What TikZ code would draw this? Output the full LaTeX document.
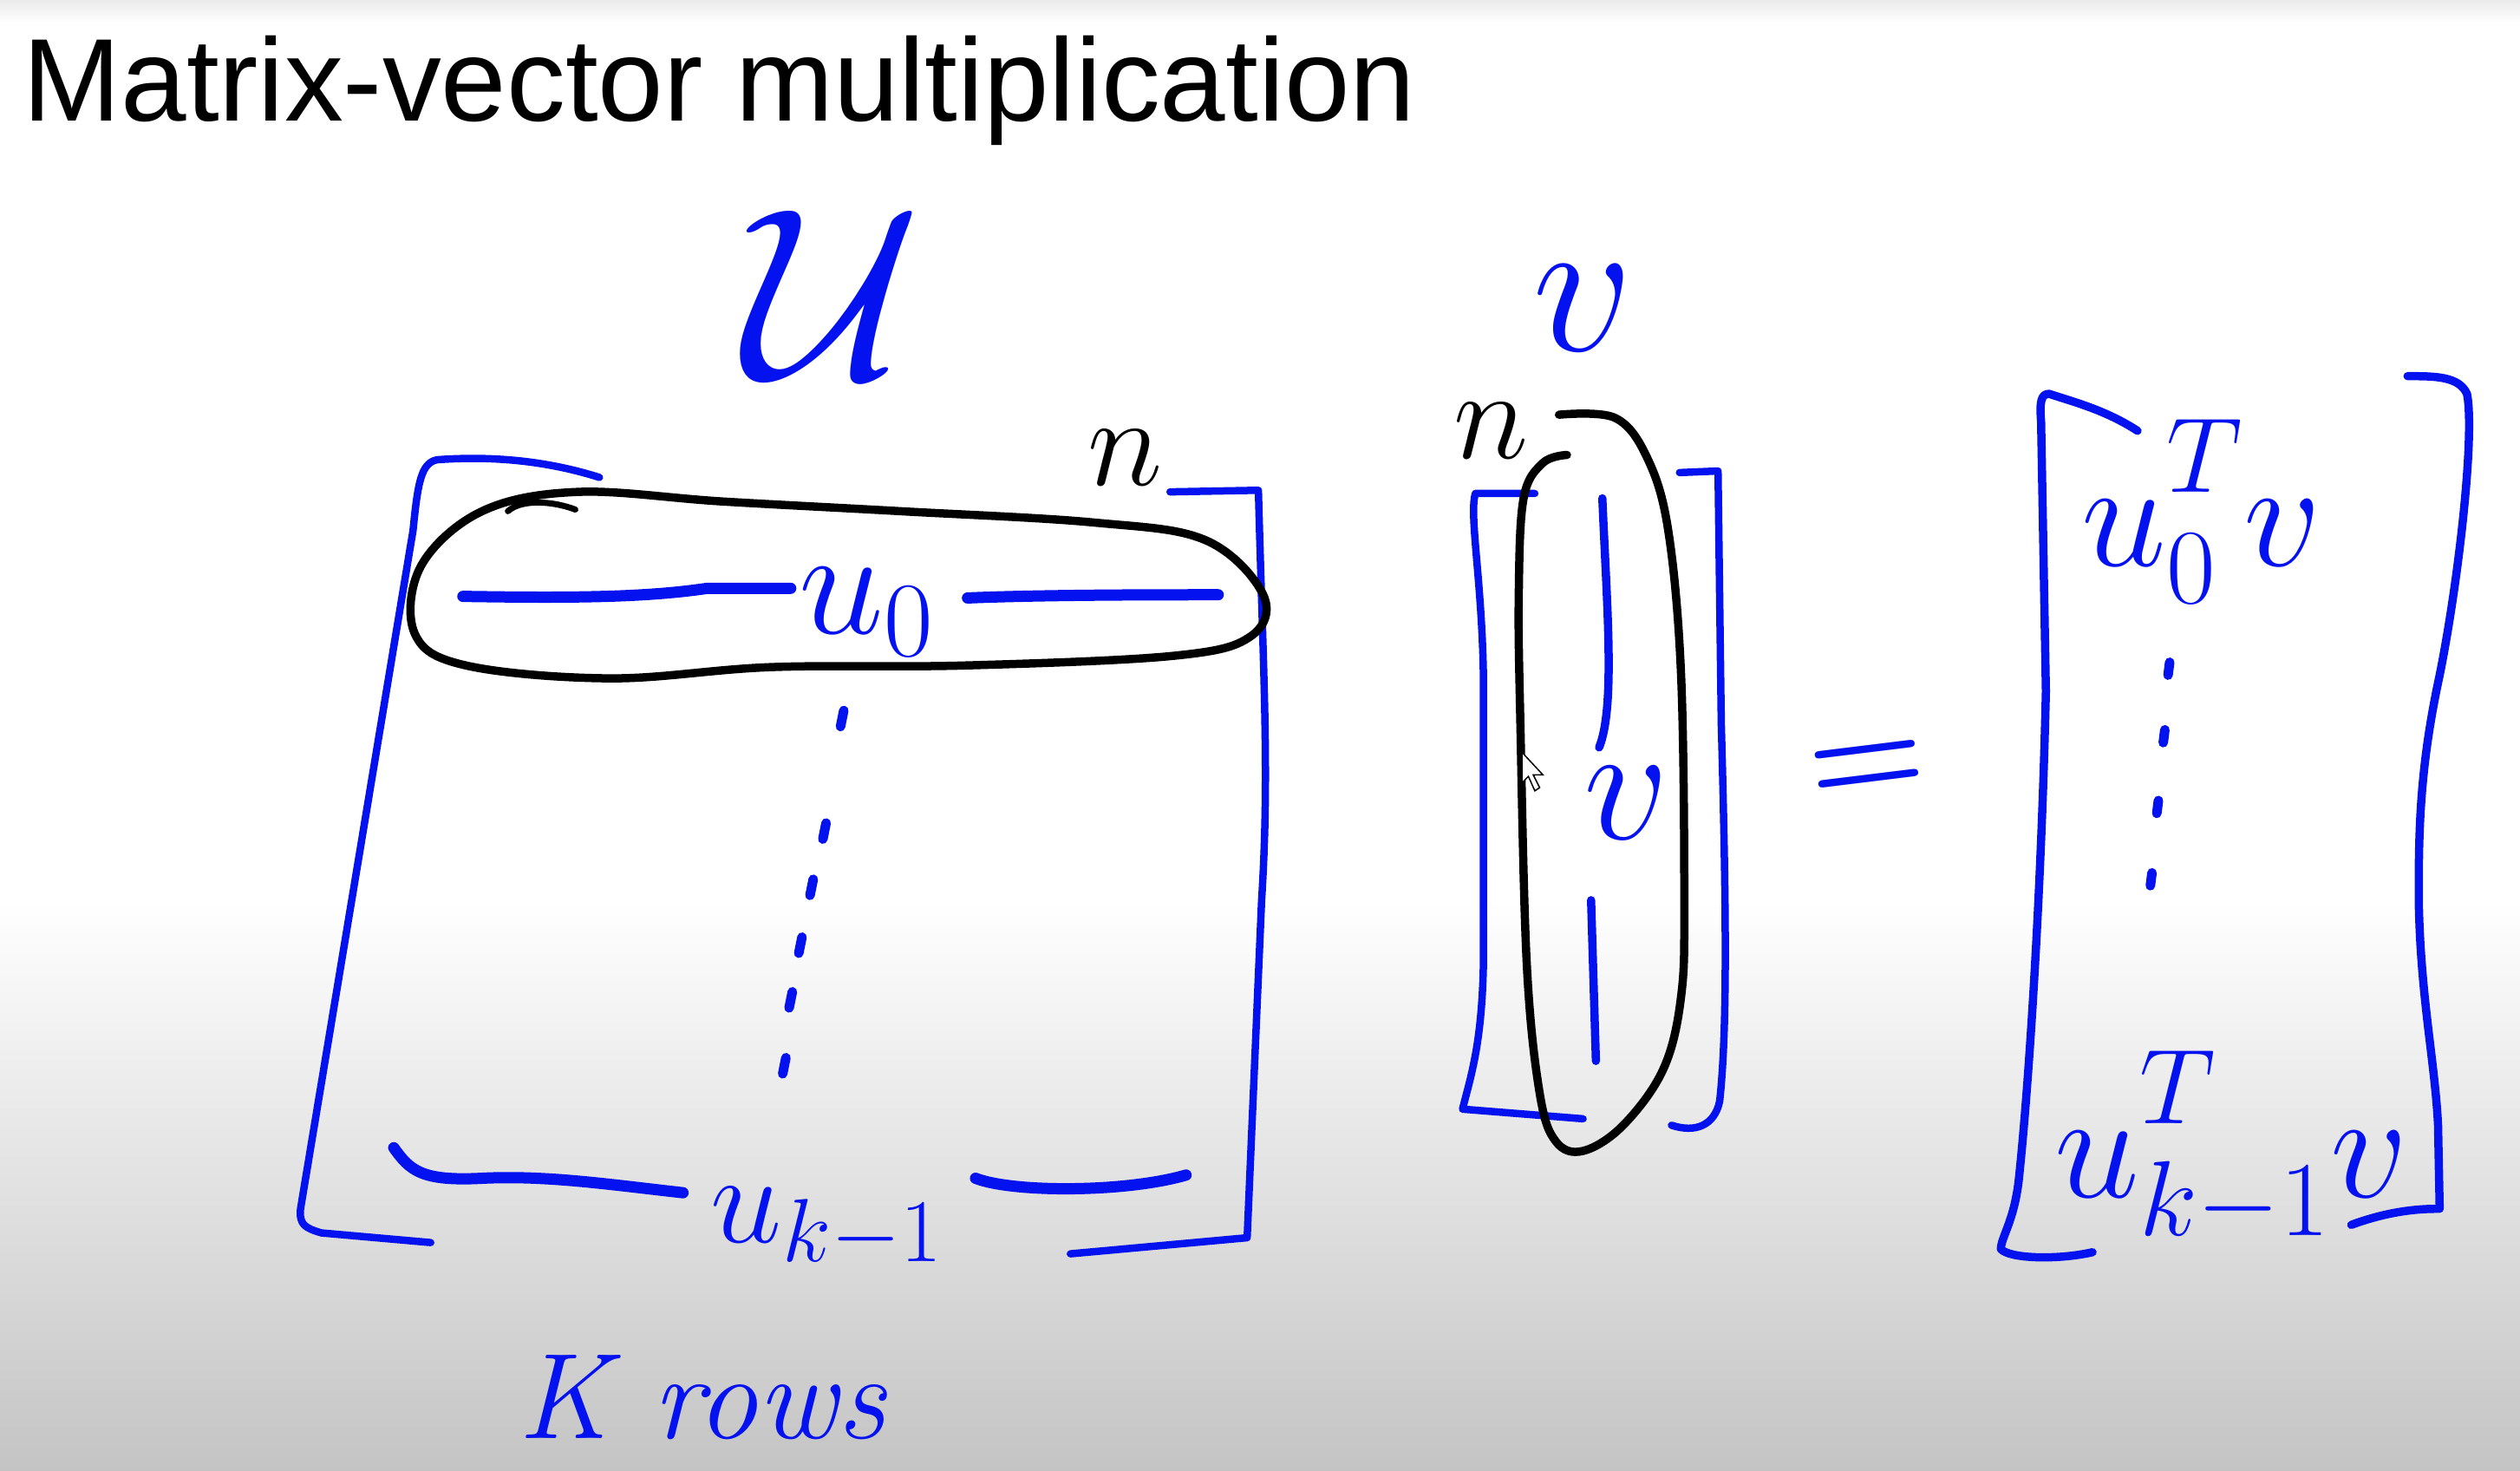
\RequirePackage{fix-cm}
\documentclass[tikz,border=0pt]{standalone}
\usepackage{fontspec}
\usepackage{amsmath}
\newfontfamily\titlefont{Liberation Sans}
\definecolor{penblue}{RGB}{5,18,240}
\definecolor{boardgray}{RGB}{196,196,196}
\newcommand{\upT}{\raisebox{.12em}{$\scriptstyle T$}}

\begin{document}
\begin{tikzpicture}[x=0.18533mm, y=-0.18533mm,
    bluepen/.style={draw=penblue, line width=0.85mm, line cap=round, line join=round},
    rowpen/.style={draw=penblue, line width=1.3mm, line cap=round},
    blackpen/.style={draw=black, line width=0.95mm, line cap=round, line join=round},
    hand/.style={text=penblue, inner sep=0pt},
    dotpen/.style={draw=penblue, line width=1.1mm, line cap=round}]

% board
\fill[white] (0,0) rectangle (1568,560);
\shade[top color=white, bottom color=boardgray] (0,560) rectangle (1568,915);
\shade[top color=black!8, bottom color=white] (0,0) rectangle (1568,14);
\useasboundingbox (0,0) rectangle (1568,915);

\node[anchor=base west, inner sep=0pt] (title) at (14,75)
    {\titlefont\fontsize{38.6}{40}\selectfont Matrix-vector multiplication};

% matrix U
\node[hand] (Ulabel) at (518,183) {\fontsize{80}{80}\selectfont$\mathcal{U}$};
\node[anchor=base, inner sep=0pt] (ncols) at (700,302) {\fontsize{42}{42}\selectfont$n$};
\draw[bluepen] (373,297) .. controls (335,285) and (300,284) .. (272,286)
    .. controls (262,288) and (260,300) .. (257,330) -- (187,752)
    .. controls (186,762) and (190,764) .. (200,767) -- (268,773);
\draw[bluepen] (728,306) -- (783,305) .. controls (786,420) and (790,480) .. (785,560)
    -- (776,770) -- (666,780);
\draw[blackpen] plot[smooth cycle, tension=0.6] coordinates {(262,352) (300,318) (360,306)
    (450,312) (560,318) (680,325) (750,336) (786,370) (778,396) (730,408) (600,414)
    (480,415) (380,422) (290,414) (258,394)};
\draw[blackpen, line width=0.7mm] (316,318) .. controls (325,310) and (345,312) .. (358,317);

% first row
\node[hand, anchor=base west] (u0) at (497,394) {\fontsize{50}{50}\selectfont$u_0$};
\draw[rowpen] (288,371) .. controls (350,372) and (400,372) .. (440,366) -- (492,366);
\draw[rowpen] (602,372) .. controls (650,370) and (720,370) .. (758,370);

% dots
\foreach \x/\y in {525/447, 514/517, 506/552, 499/588, 493/622, 489/663}
    \draw[dotpen] (\x,\y-5) -- (\x-2,\y+5);

% last row
\node[hand, anchor=base west] (uk) at (442,773) {\fontsize{42}{42}\selectfont$u_{k-1}$};
\draw[rowpen] (245,714) .. controls (255,728) and (262,735) .. (300,733)
    .. controls (340,731) and (380,737) .. (425,742);
\draw[rowpen] (607,733) .. controls (630,742) and (700,742) .. (738,731);

\node[hand, anchor=base west] (krows) at (322,895) {\fontsize{40}{40}\selectfont\itshape K rows};

% vector v
\node[hand, anchor=base] (vlabel) at (985,218) {\fontsize{65}{65}\selectfont$v$};
\node[anchor=base, inner sep=0pt] (nrows) at (928,285) {\fontsize{42}{42}\selectfont$n$};
\draw[bluepen] (955,307) -- (918,307) .. controls (914,320) and (922,360) .. (923,420)
    -- (923,600) .. controls (922,650) and (915,670) .. (910,690) -- (985,696);
\draw[bluepen] (1045,294) -- (1069,293) -- (1071,450) .. controls (1074,560) and (1075,640) .. (1070,685)
    .. controls (1067,700) and (1055,705) .. (1040,700);
\draw[blackpen] plot[smooth, tension=0.6] coordinates {(970,258) (1005,260) (1025,285)
    (1038,330) (1046,420) (1048,560) (1046,620) (1035,665) (1010,700) (985,716) (968,710)
    (958,680) (950,600) (946,450) (945,370) (948,310) (960,288) (975,283)};
\node[hand, anchor=base] (vin) at (1012,522) {\fontsize{55}{55}\selectfont$v$};
\draw[rowpen, line width=0.95mm] (997,310) .. controls (1000,380) and (1005,440) .. (995,465);
\draw[rowpen, line width=0.95mm] (990,560) -- (993,660);

% cursor
\filldraw[fill=white, draw=black, line width=0.15mm] (947,468) -- (947,487) -- (951,483)
    -- (955,492) -- (958,490) -- (954,482) -- (960,482) -- cycle;

\node[hand, rotate=7] (equals) at (1162,480) {\fontsize{44}{44}\selectfont\bfseries =};

% result
\draw[bluepen, line width=0.95mm] (1330,268) .. controls (1310,255) and (1290,250) .. (1275,245)
    .. controls (1270,245) and (1269,250) .. (1270,262) -- (1273,430)
    .. controls (1270,560) and (1262,680) .. (1256,735)
    .. controls (1253,760) and (1245,770) .. (1245,777)
    .. controls (1250,783) and (1280,784) .. (1302,779);
\draw[bluepen, line width=0.95mm] (1498,234) .. controls (1515,234) and (1530,234) .. (1535,245)
    .. controls (1540,270) and (1530,360) .. (1518,420)
    .. controls (1505,480) and (1505,520) .. (1505,560)
    .. controls (1506,620) and (1515,660) .. (1517,700) -- (1518,752)
    .. controls (1510,752) and (1490,752) .. (1463,762);
\node[hand, anchor=base west] (res0) at (1295,352) {\fontsize{50}{50}\selectfont$u_0^{\upT} v$};
\node[hand, anchor=base west] (resk) at (1278,745) {\fontsize{50}{50}\selectfont$u_{k-1}^{\upT} v$};
\foreach \x/\y in {1350/416, 1347/458, 1343/502, 1339/547}
    \draw[dotpen] (\x,\y-4) -- (\x-1,\y+4);
\end{tikzpicture}
\end{document}
